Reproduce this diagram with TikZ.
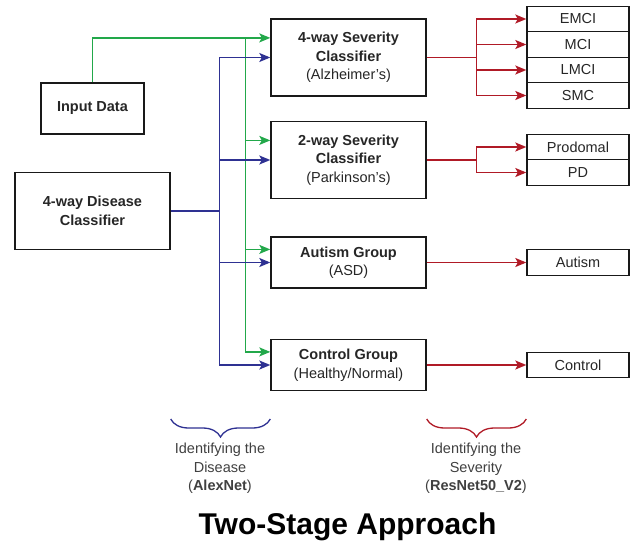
\documentclass[tikz,border=0pt]{standalone}
\usepackage{fontspec}
\setmainfont{Liberation Sans}
\usetikzlibrary{arrows.meta, positioning, calc, decorations.pathreplacing}
\definecolor{inpgreen}{RGB}{34,168,74}
\definecolor{disblue}{RGB}{46,49,146}
\definecolor{sevred}{RGB}{176,26,38}
\tikzstyle{stagebox} = [rectangle, minimum width=155pt, minimum height=77pt, text centered, align=center, draw=black!90, line width=1.4pt, inner sep=2pt, text=black!85, font=\fontsize{14.5}{18.5}\selectfont]
\tikzstyle{groupbox} = [stagebox, minimum height=51pt]
\tikzstyle{inputbox} = [stagebox, minimum width=103pt, minimum height=51pt]
\tikzstyle{classbox} = [stagebox, minimum width=102pt, minimum height=25.5pt, inner sep=0pt]
\tikzstyle{greenarrow} = [line width=1.4pt, draw=inpgreen, ->, >={Stealth[length=11pt,width=9pt,inset=2.5pt]}]
\tikzstyle{bluearrow} = [line width=1.4pt, draw=disblue, ->, >={Stealth[length=11pt,width=9pt,inset=2.5pt]}]
\tikzstyle{redarrow} = [line width=1.4pt, draw=sevred, ->, >={Stealth[length=11pt,width=9pt,inset=2.5pt]}]
\tikzstyle{stagebrace} = [line width=1.3pt, decorate, decoration={brace, mirror, amplitude=18pt}]
\tikzstyle{bracetext} = [align=center, anchor=north, inner sep=0pt, text=black!75, font=\fontsize{14.5}{18.5}\selectfont]

\begin{document}
\begin{tikzpicture}[x=1pt, y=-1pt, node distance=102.5pt]
\useasboundingbox (0,0) rectangle (639,541);

% first stage
\node (inp) [inputbox] at (92.5,108.5) {\textbf{Input Data}};
\node (dis) [stagebox, below of=inp] {\textbf{4-way Disease}\\\textbf{Classifier}};

% second stage
\node (alz) [stagebox] at (348.5,57.5) {\textbf{4-way Severity}\\\textbf{Classifier}\\(Alzheimer's)};
\node (park) [stagebox, below of=alz] {\textbf{2-way Severity}\\\textbf{Classifier}\\(Parkinson's)};
\node (asd) [groupbox, below of=park] {\textbf{Autism Group}\\(ASD)};
\node (ctrl) [groupbox, below of=asd] {\textbf{Control Group}\\(Healthy/Normal)};

% outputs
\node (emci) [classbox] at (578,19) {EMCI};
\node (mci) [classbox, below of=emci, node distance=25.5pt] {MCI};
\node (lmci) [classbox, below of=mci, node distance=25.5pt] {LMCI};
\node (smc) [classbox, below of=lmci, node distance=25.5pt] {SMC};
\node (prod) [classbox] at (578,147) {Prodomal};
\node (pd) [classbox, below of=prod, node distance=25.5pt] {PD};
\node (aut) [classbox] at (578,262.5) {Autism};
\node (con) [classbox] at (578,365) {Control};

% green: input data to every group
\coordinate (gA) at ($(alz.west)!0.5!(alz.north west)$);
\coordinate (gP) at ($(park.west)!0.5!(park.north west)$);
\coordinate (gS) at ($(asd.west)!0.5!(asd.north west)$);
\coordinate (gC) at ($(ctrl.west)!0.5!(ctrl.north west)$);
\coordinate (gsplit) at ($(gA)+(-25pt,0)$);
\draw [greenarrow] (inp.north) |- (gA);
\draw [greenarrow] (gsplit) |- (gP);
\draw [greenarrow] (gsplit) |- (gS);
\draw [greenarrow] (gsplit) |- (gC);

% blue: disease classifier to every group
\coordinate (bsplit) at ($(alz.west |- dis.east)+(-51pt,0)$);
\draw [bluearrow] (dis.east) -- (bsplit) |- (alz.west);
\draw [bluearrow] (bsplit) |- (park.west);
\draw [bluearrow] (bsplit) |- (asd.west);
\draw [bluearrow] (bsplit) |- (ctrl.west);

% red: severity
\coordinate (rA) at ($(alz.east)+(50pt,0)$);
\coordinate (rP) at ($(park.east)+(50pt,0)$);
\draw [redarrow] (alz.east) -- (rA) |- (emci.west);
\draw [redarrow] (rA) |- (mci.west);
\draw [redarrow] (rA) |- (lmci.west);
\draw [redarrow] (rA) |- (smc.west);
\draw [redarrow] (park.east) -- (rP) |- (prod.west);
\draw [redarrow] (rP) |- (pd.west);
\draw [redarrow] (asd.east) -- (aut.west);
\draw [redarrow] (ctrl.east) -- (con.west);

% braces
\coordinate (braceY) at (0,419);
\draw [stagebrace, disblue] (dis.east |- braceY) -- (alz.west |- braceY);
\draw [stagebrace, sevred] (alz.east |- braceY) -- (emci.west |- braceY);
\node (distext) [bracetext] at (220,443) {Identifying the\\Disease\\(\textbf{AlexNet})};
\node (sevtext) [bracetext] at (476,443) {Identifying the\\Severity\\(\textbf{ResNet50\_V2})};

\node (title) [anchor=base, font=\bfseries\fontsize{30}{36}\selectfont] at (347.5,534) {Two-Stage Approach};
\end{tikzpicture}
\end{document}
